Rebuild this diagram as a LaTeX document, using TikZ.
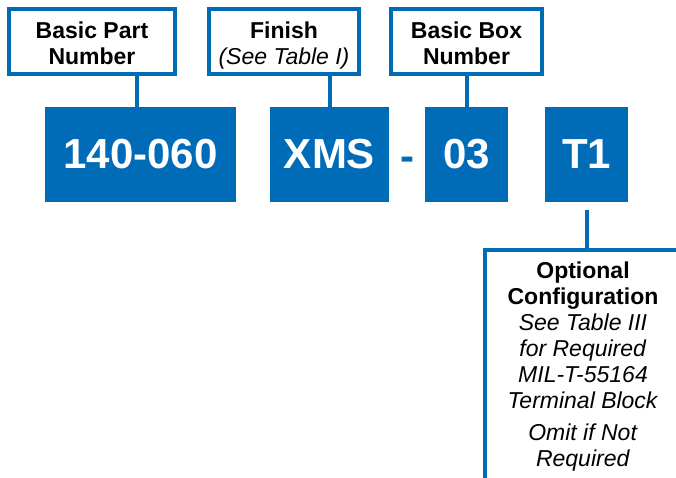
\documentclass[tikz,border=0pt]{standalone}
\usepackage{fontspec}
\setmainfont{Liberation Sans}
\usetikzlibrary{positioning, calc}
\definecolor{partblue}{RGB}{0,107,182}

\begin{document}
\begin{tikzpicture}[x=1pt, y=-1pt,
      code/.style={fill=partblue, text=white, minimum height=95pt, inner sep=0pt,
        font=\fontsize{42}{48}\selectfont\bfseries},
      fieldbox/.style={draw=partblue, line width=4pt, fill=white, align=center,
        minimum height=65pt, inner sep=0pt, text height=45pt, text depth=0pt,
        font=\fontsize{23}{26}\selectfont},
      link/.style={draw=partblue, line width=4pt}
  ]
  \useasboundingbox (0,0) rectangle (676,477);

  \foreach \name/\x/\w/\txt in {part/140.5/191/140-060, fin/329.5/119/XMS,
      box/466.5/83/03, term/586.5/83/T1} {
      \node[code, minimum width=\w pt] (\name) at (\x,154.5) {\txt};
  }
  \node[text=partblue, inner sep=0pt, font=\fontsize{42}{48}\selectfont\bfseries]
    (dash) at (407,164) {-};

  \node[fieldbox, minimum width=166pt] (partlbl) at (92,41.5)
    {\textbf{Basic Part}\\\textbf{Number}};
  \node[fieldbox, minimum width=150pt] (finlbl) at (284,41.5)
    {\textbf{Finish}\\\textit{(See Table I)}};
  \node[fieldbox, minimum width=151pt] (boxlbl) at (466.5,41.5)
    {\textbf{Basic Box}\\\textbf{Number}};

  \coordinate (partin) at ([xshift=-3.5pt]part.north);
  \draw[link] (partlbl.south -| partin) -- (partin);
  \draw[link] (finlbl.south -| fin.north) -- (fin.north);
  \draw[link] (boxlbl.south -| box.north) -- (box.north);

  % open box for the option
  \coordinate (corner) at (485,250);
  \coordinate (optright) at (680,250);
  \coordinate (optbottom) at (485,481);
  \draw[link] ([yshift=-8pt]term.south) -- (term.south |- corner);
  \draw[link] (optright) -- (corner) -- (optbottom);

  \node[align=center, inner sep=0pt, font=\fontsize{23}{26}\selectfont] (opt) at (583,367)
    {\textbf{Optional}\\\textbf{Configuration}\\\textit{See Table III}\\
     \textit{for Required}\\\textit{MIL-T-55164}\\\textit{Terminal Block}\\[6pt]
     \textit{Omit if Not}\\\textit{Required}};
\end{tikzpicture}
\end{document}
